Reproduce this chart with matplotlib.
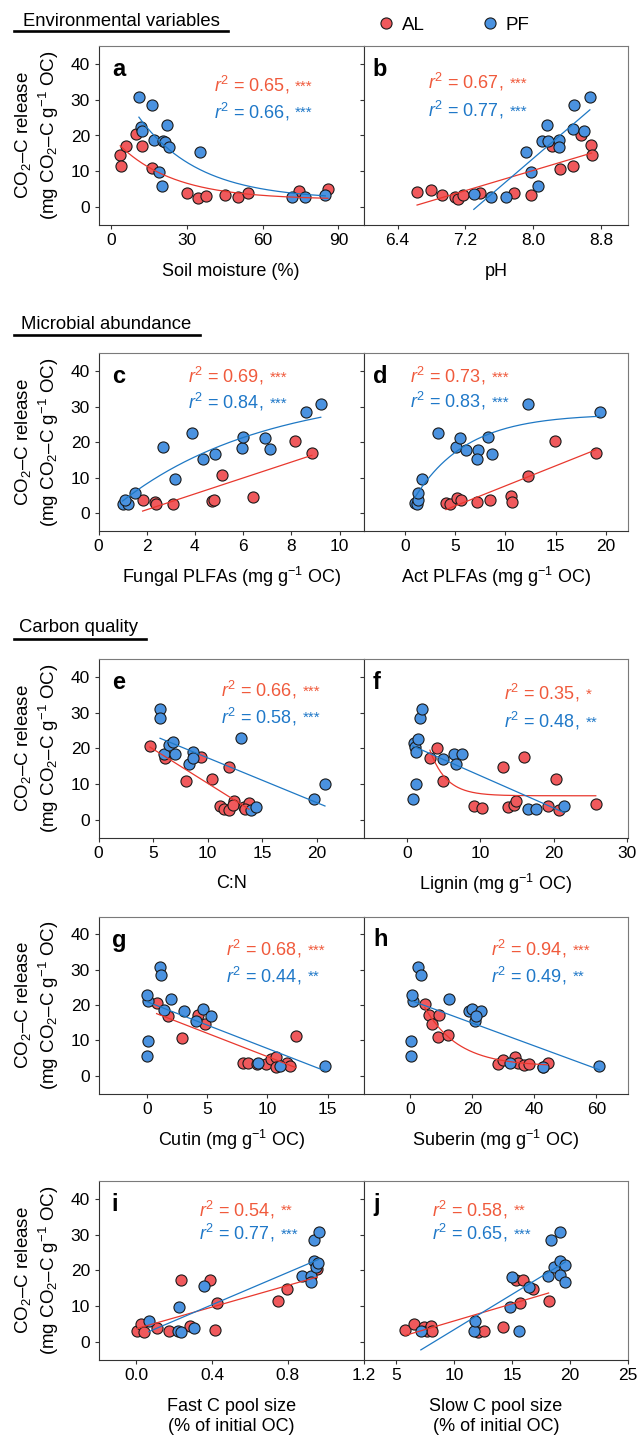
import numpy as np
import matplotlib
matplotlib.use("Agg")
import matplotlib.pyplot as plt
from matplotlib.lines import Line2D

plt.rcParams['font.family'] = ['Liberation Sans', 'DejaVu Sans']
plt.rcParams['mathtext.fontset'] = 'custom'
plt.rcParams['mathtext.rm'] = 'Liberation Sans'
plt.rcParams['mathtext.it'] = 'Liberation Sans:italic'
plt.rcParams['mathtext.bf'] = 'Liberation Sans:bold'

# ---------------- data ----------------
panel_letters = ['a', 'b', 'c', 'd', 'e', 'f', 'g', 'h', 'i', 'j']
x_labels = ['Soil moisture (%)', 'pH',
            'Fungal PLFAs (mg g$^{-1}$ OC)', 'Act PLFAs (mg g$^{-1}$ OC)',
            'C:N', 'Lignin (mg g$^{-1}$ OC)',
            'Cutin (mg g$^{-1}$ OC)', 'Suberin (mg g$^{-1}$ OC)',
            'Fast C pool size\n(% of initial OC)', 'Slow C pool size\n(% of initial OC)']
x_ticks = [[0, 30, 60, 90], [6.4, 7.2, 8.0, 8.8], [0, 2, 4, 6, 8, 10], [0, 5, 10, 15, 20],
           [0, 5, 10, 15, 20], [0, 10, 20, 30], [0, 5, 10, 15], [0, 20, 40, 60],
           [0.0, 0.4, 0.8, 1.2], [5, 10, 15, 20, 25]]
x_tick_labels = [['0', '30', '60', '90'], ['6.4', '7.2', '8.0', '8.8'],
                 ['0', '2', '4', '6', '8', '10'], ['0', '5', '10', '15', '20'],
                 ['0', '5', '10', '15', '20'], ['0', '10', '20', '30'],
                 ['0', '5', '10', '15'], ['0', '20', '40', '60'],
                 ['0.0', '0.4', '0.8', '1.2'], ['5', '10', '15', '20', '25']]
x_lims = [(-5, 100), (6.0, 9.12), (0, 11), (-4.1, 22.2), (0, 24.3), (-5.9, 30.1),
          (-4, 18), (-15, 70.2), (-0.2, 1.2), (2.2, 25)]
y_ticks = [0, 10, 20, 30, 40]
y_lim = (-5, 45)

# AL (active layer) series
al_x_a = [3.6, 3.9, 6.0, 10.0, 12.1, 16.2, 30.2, 34.4, 37.6, 45.2, 50.1, 54.0, 74.5, 85.8]
al_y_a = [14.5, 11.6, 17.2, 20.3, 17.2, 10.8, 3.8, 2.6, 3.2, 3.4, 2.9, 3.8, 4.5, 5.0]
al_x_b = [6.63, 6.80, 6.92, 7.08, 7.11, 7.17, 7.37, 7.78, 7.98, 8.22, 8.32, 8.47, 8.57, 8.68, 8.69]
al_y_b = [4.3, 4.9, 3.4, 2.9, 2.4, 3.4, 3.8, 3.8, 3.4, 17.2, 10.6, 11.6, 20.2, 17.3, 14.6]
al_x_c = [1.83, 2.36, 2.39, 3.09, 4.70, 4.80, 5.11, 6.40, 8.17, 8.85]
al_y_c = [3.8, 3.2, 2.6, 2.5, 3.4, 3.6, 10.7, 4.7, 20.3, 17.1]
al_x_d = [4.09, 4.49, 5.18, 5.59, 7.21, 8.42, 10.57, 10.61, 12.27, 14.94, 18.99]
al_y_d = [2.9, 2.5, 4.4, 3.6, 3.2, 3.6, 4.8, 3.2, 10.6, 20.3, 17.1]
al_x_e = [4.71, 6.13, 8.04, 9.42, 10.43, 11.96, 11.10, 11.51, 11.96, 12.41, 12.34, 13.35, 13.79, 13.46]
al_y_e = [20.6, 17.3, 10.8, 17.5, 11.5, 14.8, 3.7, 3.1, 2.8, 5.1, 4.0, 3.6, 4.7, 2.9]
al_x_f = [3.12, 4.12, 4.84, 9.13, 10.24, 13.02, 13.75, 14.58, 14.80, 15.97, 19.14, 20.26, 20.70, 25.71]
al_y_f = [17.3, 20.1, 10.8, 3.7, 3.3, 14.8, 3.6, 4.0, 5.1, 17.6, 3.7, 11.5, 2.6, 4.3]
al_x_g = [0.82, 1.77, 2.93, 4.29, 4.80, 7.96, 8.40, 9.15, 9.93, 10.34, 10.75, 10.75, 11.60, 11.87, 12.38]
al_y_g = [20.5, 16.8, 10.8, 17.2, 14.7, 3.5, 3.7, 3.3, 3.3, 4.7, 5.3, 2.5, 3.7, 2.9, 11.3]
al_x_h = [4.7, 6.0, 6.9, 9.0, 9.3, 12.3, 28.3, 30.0, 33.7, 34.6, 36.6, 38.4, 42.8, 44.3]
al_y_h = [20.3, 17.2, 14.5, 10.9, 17.2, 11.5, 3.4, 4.5, 5.3, 3.7, 3.0, 3.3, 2.5, 3.7]
al_x_i = [0.005, 0.026, 0.039, 0.111, 0.171, 0.237, 0.281, 0.390, 0.426, 0.417, 0.747, 0.795, 0.955]
al_y_i = [3.1, 5.0, 2.6, 3.7, 2.9, 17.3, 4.3, 17.4, 10.7, 3.4, 11.5, 14.7, 20.4]
al_x_j = [5.78, 6.55, 7.36, 7.65, 7.99, 8.08, 12.02, 12.54, 14.21, 15.36, 15.93, 15.65, 16.80, 18.15]
al_y_j = [3.4, 5.0, 4.0, 3.1, 4.5, 3.1, 2.6, 3.1, 4.0, 17.3, 17.3, 10.7, 14.7, 11.5]

# PF (permafrost) series
pf_x_a = [11.0, 16.2, 11.8, 12.3, 22.0, 17.1, 20.4, 21.5, 23.1, 35.2, 19.1, 20.2, 71.7, 76.9, 84.8]
pf_y_a = [30.8, 28.6, 22.3, 21.2, 22.8, 18.8, 18.6, 18.1, 16.9, 15.5, 9.9, 5.9, 2.7, 2.9, 3.5]
pf_x_b = [7.30, 7.50, 7.68, 7.92, 7.97, 8.06, 8.16, 8.10, 8.18, 8.30, 8.30, 8.48, 8.47, 8.60, 8.67]
pf_y_b = [3.6, 2.8, 2.7, 15.5, 9.8, 5.9, 22.8, 18.4, 18.4, 18.7, 16.9, 28.5, 21.8, 21.3, 30.8]
pf_x_c = [1.00, 1.22, 1.10, 1.51, 2.67, 3.17, 3.89, 4.35, 4.82, 5.96, 6.01, 6.89, 7.10, 8.59, 9.22]
pf_y_c = [2.5, 2.6, 3.6, 5.7, 18.7, 9.6, 22.7, 15.3, 16.8, 18.3, 21.5, 21.1, 18.2, 28.5, 30.7]
pf_x_d = [1.01, 1.17, 1.26, 1.26, 1.66, 3.32, 5.10, 5.47, 6.11, 7.29, 7.21, 8.30, 8.62, 12.27, 19.39]
pf_y_d = [2.8, 2.5, 3.6, 5.7, 9.6, 22.7, 18.7, 21.2, 17.8, 17.8, 15.3, 21.5, 16.8, 30.8, 28.5]
pf_x_e = [5.64, 5.64, 5.98, 6.47, 6.84, 7.03, 8.26, 8.67, 8.64, 13.05, 13.98, 14.47, 19.74, 20.75]
pf_y_e = [30.9, 28.6, 18.5, 21.0, 21.8, 18.3, 15.5, 19.0, 17.4, 22.9, 2.8, 3.6, 5.8, 9.9]
pf_x_f = [0.78, 1.22, 0.89, 1.11, 1.22, 1.45, 1.73, 2.06, 4.84, 6.34, 6.68, 7.51, 16.47, 17.58, 21.37]
pf_y_f = [5.9, 9.9, 21.5, 20.4, 18.9, 22.6, 28.6, 30.9, 17.0, 18.4, 15.6, 18.4, 2.9, 2.9, 3.7]
pf_x_g = [0.0, 0.14, 0.07, 0.0, 1.09, 1.16, 1.43, 2.04, 3.06, 4.08, 4.66, 5.34, 9.25, 11.09, 14.76]
pf_y_g = [5.7, 9.7, 21.1, 22.8, 30.8, 28.5, 18.5, 21.6, 18.3, 15.5, 18.8, 16.8, 3.7, 2.9, 2.7]
pf_x_h = [0.26, 0.26, 0.79, 0.52, 2.36, 3.41, 12.4, 19.1, 19.8, 22.7, 20.8, 21.1, 32.2, 42.7, 61.0]
pf_y_h = [5.7, 9.7, 21.1, 22.8, 30.8, 28.5, 21.6, 18.3, 18.8, 18.3, 15.5, 16.8, 3.5, 2.5, 2.7]
pf_x_i = [0.065, 0.223, 0.220, 0.237, 0.302, 0.355, 0.876, 0.920, 0.920, 0.935, 0.949, 0.958, 0.937, 0.962]
pf_y_i = [5.7, 9.8, 2.9, 2.6, 3.7, 15.5, 18.3, 18.3, 16.8, 22.7, 21.0, 22.0, 28.5, 30.8]
pf_x_j = [7.13, 11.68, 11.82, 14.99, 14.84, 15.59, 16.42, 18.06, 18.35, 19.16, 18.58, 19.16, 19.60, 19.16, 19.60]
pf_y_j = [2.9, 3.1, 5.7, 18.2, 9.8, 2.9, 15.4, 18.3, 28.5, 30.8, 21.0, 22.7, 21.6, 18.8, 16.8]

al_x = [al_x_a, al_x_b, al_x_c, al_x_d, al_x_e, al_x_f, al_x_g, al_x_h, al_x_i, al_x_j]
al_y = [al_y_a, al_y_b, al_y_c, al_y_d, al_y_e, al_y_f, al_y_g, al_y_h, al_y_i, al_y_j]
pf_x = [pf_x_a, pf_x_b, pf_x_c, pf_x_d, pf_x_e, pf_x_f, pf_x_g, pf_x_h, pf_x_i, pf_x_j]
pf_y = [pf_y_a, pf_y_b, pf_y_c, pf_y_d, pf_y_e, pf_y_f, pf_y_g, pf_y_h, pf_y_i, pf_y_j]

fit_al = ['exp', 'lin', 'lin', 'lin', 'lin', 'exp', 'lin', 'exp', 'lin', 'lin']
fit_pf = ['exp', 'lin', 'exp', 'exp', 'lin', 'lin', 'lin', 'lin', 'lin', 'lin']

r2_al = ['0.65', '0.67', '0.69', '0.73', '0.66', '0.35', '0.68', '0.94', '0.54', '0.58']
sig_al = ['***', '***', '***', '***', '***', '*', '***', '***', '**', '**']
r2_pf = ['0.66', '0.77', '0.84', '0.83', '0.58', '0.48', '0.44', '0.49', '0.77', '0.65']
sig_pf = ['***', '***', '***', '***', '***', '**', '**', '**', '***', '***']

section_titles = ['Environmental variables', 'Microbial abundance', 'Carbon quality']
legend_labels = ['AL', 'PF']

# ---------------- style ----------------
C_AL = '#F0595C'
C_PF = '#4A92E0'
C_AL_LINE = '#E8382E'
C_PF_LINE = '#1E78C4'
C_AL_TXT = '#F05A3C'
C_PF_TXT = '#1F78C8'
EDGE = '#1a1a1a'

W, H = 640, 1437
fig = plt.figure(figsize=(W / 100, H / 100), dpi=100)

col_x = [98.5, 363.7, 628.0]
rows = [(46, 225), (353.5, 531), (659, 837.5), (916.5, 1093.5), (1181, 1359.5)]

# text positions (axes fraction): x start, red offset px from top, blue offset px
txt_x = [0.4345, 0.243, 0.339, 0.177, 0.461, 0.532, 0.481, 0.482, 0.379, 0.26]
txt_off = [(39, 65.7), (36, 64), (22.7, 48.4), (22.7, 47.4), (31, 57.7), (34.3, 62),
           (32.3, 59), (32.3, 59), (28.7, 52), (28.7, 52)]
letter_x = [0.05, 0.035]


def fit_line(x, y, kind):
    x = np.asarray(x, float)
    y = np.asarray(y, float)
    xs = np.linspace(x.min(), x.max(), 200)
    if kind == 'lin':
        p = np.polyfit(x, y, 1)
        return xs, np.polyval(p, xs)
    x0 = x.min()
    span = x.max() - x.min()
    best = None
    for k in np.logspace(-2, 2.5, 500) / span:
        M = np.column_stack([np.exp(-k * (x - x0)), np.ones_like(x)])
        coef, *_ = np.linalg.lstsq(M, y, rcond=None)
        sse = np.sum((M @ coef - y) ** 2)
        if best is None or sse < best[0]:
            best = (sse, k, coef)
    _, k, coef = best
    return xs, coef[0] * np.exp(-k * (xs - x0)) + coef[1]


axes = []
for i in range(10):
    r, c = divmod(i, 2)
    top, bot = rows[r]
    x0, x1 = col_x[c], col_x[c + 1]
    ax = fig.add_axes([x0 / W, 1 - bot / H, (x1 - x0) / W, (bot - top) / H])
    axes.append(ax)
    ax_h = bot - top

    ax.scatter(al_x[i], al_y[i], s=64, c=C_AL, edgecolors=EDGE, linewidths=0.8, zorder=3)
    ax.scatter(pf_x[i], pf_y[i], s=64, c=C_PF, edgecolors=EDGE, linewidths=0.8, zorder=3)
    xs, ys = fit_line(al_x[i], al_y[i], fit_al[i])
    ax.plot(xs, ys, color=C_AL_LINE, lw=0.9, zorder=4)
    xs, ys = fit_line(pf_x[i], pf_y[i], fit_pf[i])
    ax.plot(xs, ys, color=C_PF_LINE, lw=0.9, zorder=4)

    ax.set_xlim(*x_lims[i])
    ax.set_ylim(*y_lim)
    ax.set_xticks(x_ticks[i])
    ax.set_xticklabels(x_tick_labels[i])
    ax.set_yticks(y_ticks)
    if c == 0:
        ax.set_yticklabels([str(v) for v in y_ticks])
        ax.set_ylabel('CO$_2$–C release\n(mg CO$_2$–C g$^{-1}$ OC)', fontsize=13.5,
                      va='center', linespacing=1.25)
        ax.yaxis.set_label_coords(-0.232, 0.5)
    else:
        ax.set_yticklabels([])
    ax.tick_params(axis='both', direction='out', length=2.6, width=0.8,
                   color='#333333', labelsize=12.5, pad=3.5)

    two_line = '\n' in x_labels[i]
    ax.set_xlabel(x_labels[i], fontsize=13, va='center', linespacing=1.2)
    off = 57 if two_line else 46
    ax.xaxis.set_label_coords(0.5, -off / ax_h)

    for side in ['top', 'right']:
        ax.spines[side].set_color('#7a7a7a')
        ax.spines[side].set_linewidth(0.8)
    for side in ['left', 'bottom']:
        ax.spines[side].set_color('#333333')
        ax.spines[side].set_linewidth(0.8)

    ax.text(letter_x[c], 1 - 30 / ax_h, panel_letters[i], transform=ax.transAxes,
            fontsize=17, fontweight='bold', ha='left', va='baseline')

    for txt, sig, col, offp in [(r2_al[i], sig_al[i], C_AL_TXT, txt_off[i][0]),
                                (r2_pf[i], sig_pf[i], C_PF_TXT, txt_off[i][1])]:
        t = ax.text(txt_x[i], 1 - offp / ax_h, '$r^2$ = ' + txt + ',',
                    transform=ax.transAxes, fontsize=13, color=col,
                    ha='left', va='center')
        ax.annotate(sig, xy=(1, 1), xycoords=t, xytext=(4.5, -4.0),
                    textcoords='offset points', fontsize=11, color=col,
                    ha='left', va='top')

# section headings
head_pos = [(23, 26.5), (21.3, 329.3), (19.2, 631.7)]
line_y = [30.7, 334.7, 639.3]
fig.canvas.draw()
renderer = fig.canvas.get_renderer()
for title, (hx, hy), ly in zip(section_titles, head_pos, line_y):
    t = fig.text(hx / W, 1 - hy / H, title, fontsize=13.3, ha='left', va='baseline')
    bb = t.get_window_extent(renderer=renderer)
    fig.add_artist(Line2D([13.5 / W, (bb.x1 + 8) / W], [1 - ly / H, 1 - ly / H],
                          color='black', lw=1.9, transform=fig.transFigure))

# legend
handles = [Line2D([], [], ls='', marker='o', ms=8, mfc=C_AL, mec=EDGE, mew=0.8),
           Line2D([], [], ls='', marker='o', ms=8, mfc=C_PF, mec=EDGE, mew=0.8)]
fig.legend(handles, legend_labels, loc='center left', bbox_to_anchor=(377 / W, 1 - 25 / H),
           ncol=2, frameon=False, fontsize=13.5, handlelength=1.0, handletextpad=0.35,
           columnspacing=2.93, borderpad=0, borderaxespad=0)

fig.savefig('out.png', dpi=100)
